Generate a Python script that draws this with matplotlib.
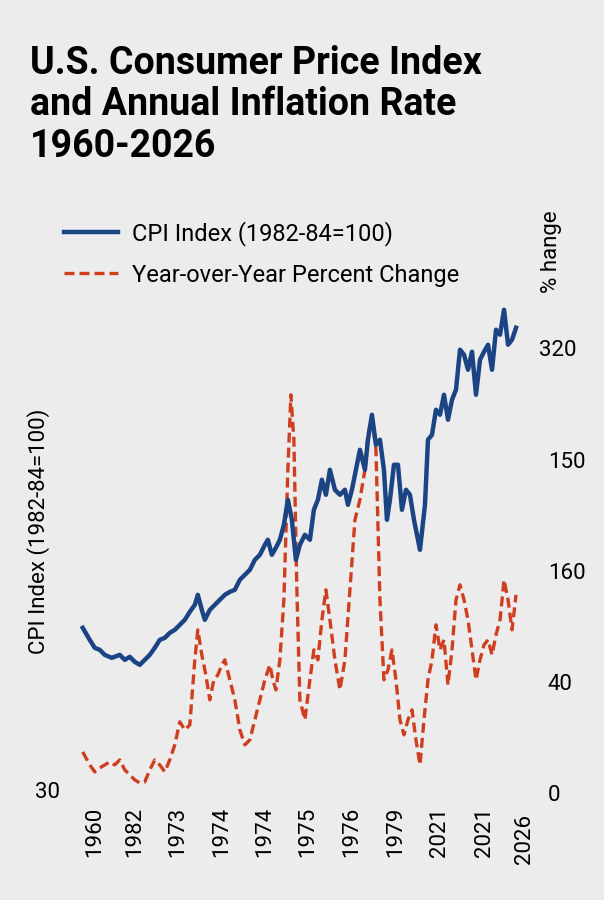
import matplotlib
matplotlib.use("Agg")
import matplotlib.pyplot as plt
import numpy as np

# readings in its own pixel grid (x from left, y from top)
cpi_px = [83,90,95,100,105,112,120,125,130,135,140,145,150,155,160,165,170,175,180,185,190,195,198,202,205,210,215,220,225,230,235,240,245,250,255,260,265,268,272,276,280,284,288,292,296,300,305,310,314,318,322,326,330,335,340,345,348,352,356,360,365,368,372,376,380,384,387,390,394,398,402,406,410,414,418,420,425,428,432,436,440,444,448,452,456,460,464,468,472,476,480,484,488,492,496,500,504,508,512,516]
cpi_py = [628,640,648,650,655,658,655,660,657,662,665,660,655,648,640,638,633,630,625,620,612,605,595,610,620,610,605,600,595,592,590,580,575,570,560,555,545,540,555,548,540,525,500,520,560,545,535,540,510,500,480,495,470,490,495,490,505,490,470,450,470,440,415,445,440,470,520,500,465,465,510,490,495,520,540,550,505,440,435,410,415,395,420,400,390,350,355,370,352,395,360,352,345,370,330,335,310,345,340,328]
yoy_px = [83,90,95,100,105,110,115,120,125,130,135,140,145,150,155,160,165,170,175,180,185,190,195,198,202,206,210,214,218,222,225,230,235,240,245,250,255,260,265,270,273,276,280,284,288,291,294,297,300,305,310,314,318,322,326,330,335,340,345,350,355,360,365,368,372,376,380,384,388,392,396,400,404,408,412,416,420,424,428,432,436,440,444,448,452,456,460,464,468,472,476,480,484,488,492,496,500,504,508,512,516]
yoy_py = [752,765,772,768,765,762,765,760,770,775,780,783,782,770,760,765,772,760,745,722,730,725,660,630,655,675,700,680,675,665,660,680,700,730,745,740,720,700,680,665,680,690,660,600,470,395,440,590,700,720,680,650,660,620,590,620,660,690,660,590,520,500,470,435,418,450,600,680,670,650,680,720,735,720,710,740,765,720,680,660,625,650,640,685,650,600,585,600,620,650,680,660,645,640,655,635,620,580,600,630,595]

# convert readings to chart units (origin at the chart's bottom-left corner)
X0, Y0 = 80, 793
cpi_x = [p - X0 for p in cpi_px]; cpi_y = [Y0 - p for p in cpi_py]
yoy_x = [p - X0 for p in yoy_px]; yoy_y = [Y0 - p for p in yoy_py]

ytick_pos = [0, 111, 222, 333, 444]
ytick_lab = ["0", "40", "160", "150", "320"]
xtick_pos = [15, 55, 98, 142, 185, 228, 272, 316, 360, 404, 447]
xtick_lab = ["1960", "1982", "1973", "1974", "1974", "1975", "1976", "1979", "2021", "2021", "2026"]

bg = "#ececec"
plt.rcParams["font.family"] = ["Roboto", "DejaVu Sans"]
fig = plt.figure(figsize=(6.04, 9.0), dpi=100, facecolor=bg)
ax = fig.add_axes([0.132, 0.119, 0.729, 0.548], facecolor=bg)
l1, = ax.plot(cpi_x, cpi_y, color="#1b4484", lw=3.2, label="CPI Index (1982-84=100)", zorder=3)
l2, = ax.plot(yoy_x, yoy_y, color="#cf3e1e", lw=2.4, ls=(0, (3, 1.5)), label="Year-over-Year Percent Change")
ax.set_xlim(0, 440)
ax.set_ylim(0, 493)
for s in ax.spines.values():
    s.set_visible(False)
ax.yaxis.tick_right()
ax.set_yticks(ytick_pos[:4])
ax.set_yticklabels(ytick_lab[:4], fontsize=16)
ax.tick_params(axis="y", length=0, pad=20)
ax.set_xticks(xtick_pos[:10])
ax.set_xticklabels(xtick_lab[:10], rotation=90, fontsize=16)
ax.tick_params(axis="x", length=0, pad=10)
fig.text(0.893, 0.611, "320", fontsize=16, ha="left", va="center")
fig.text(0.087 * 604 / 604 * 1.0 + 0.06, 0.0, "", fontsize=1)
fig.text(0.868, 0.04, "2026", rotation=90, fontsize=16, ha="center", va="bottom")
fig.text(0.1, 0.119, "30", fontsize=16, ha="right", va="center")
fig.text(0.063, 0.41, "CPI Index (1982-84=100)", rotation=90, fontsize=16, ha="center", va="center")
fig.text(0.913, 0.72, "% hange", rotation=90, fontsize=16, ha="center", va="center")
fig.text(0.05, 0.95, "U.S. Consumer Price Index\nand Annual Inflation Rate\n1960-2026", fontsize=27,
         fontweight="bold", ha="left", va="top", linespacing=1.15)
fig.legend(handles=[l1, l2], loc="upper left", bbox_to_anchor=(0.09, 0.765), frameon=False, fontsize=17,
           handlelength=2.3, handletextpad=0.6, labelspacing=0.75, borderaxespad=0)
fig.savefig("out.png", dpi=100, facecolor=bg)
